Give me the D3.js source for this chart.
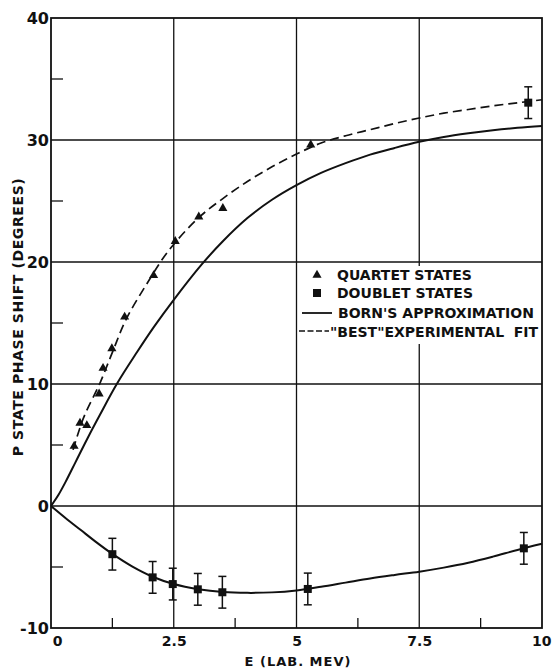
<!DOCTYPE html>
<html>
<head>
<meta charset="utf-8">
<script src="https://cdn.jsdelivr.net/npm/d3@7/dist/d3.min.js"></script>
<style>
  html, body { margin: 0; padding: 0; background: #fff; }
  svg { display: block; }
  text { font-family: "DejaVu Sans", sans-serif; fill: #111; }
</style>
</head>
<body>
<svg id="chart" width="552" height="668"></svg>
<script>
// ---------------- data ----------------
const xTickValues = [0, 2.5, 5, 7.5, 10];
const xTickLabels = ["0", "2.5", "5", "7.5", "10"];
const yTickValues = [-10, 0, 10, 20, 30, 40];
const yTickLabels = ["-10", "0", "10", "20", "30", "40"];
const xMinorTicks = [1.25, 3.75, 6.25, 8.75];
const yMinorTicks = [-5, 5, 15, 25, 35];

// Quartet states (triangles)
const quartetE   = [0.47, 0.59, 0.73, 0.98, 1.06, 1.24, 1.50, 2.09, 2.53, 3.01, 3.50, 5.29];
const quartetPhi = [4.9, 6.8, 6.6, 9.2, 11.3, 12.9, 15.5, 18.9, 21.7, 23.7, 24.4, 29.6];

// Doublet states (squares with error bars)
const doubletE   = [1.25, 2.07, 2.48, 2.99, 3.49, 5.23, 9.63, 9.72];
const doubletPhi = [-3.95, -5.85, -6.4, -6.83, -7.07, -6.8, -3.47, 33.06];
const doubletErr = [1.3, 1.3, 1.3, 1.3, 1.3, 1.3, 1.3, 1.3];

// Born's approximation, quartet (solid)
const bornQE   = [0, 0.15, 0.3, 0.5, 0.75, 1.0, 1.34, 1.75, 2.1, 2.5, 3.07, 3.5, 4.0, 4.5, 5.0, 5.5, 6.0, 6.5, 7.0, 7.5, 8.0, 8.5, 9.0, 9.5, 10];
const bornQPhi = [0, 0.9, 2.0, 3.6, 5.6, 7.5, 10.0, 12.6, 14.7, 16.9, 19.8, 21.7, 23.6, 25.1, 26.3, 27.3, 28.1, 28.8, 29.35, 29.85, 30.25, 30.55, 30.8, 31.0, 31.15];

// Born's approximation, doublet (solid)
const bornDE   = [0, 0.3, 0.6, 0.9, 1.25, 1.65, 2.07, 2.5, 3.0, 3.5, 4.0, 4.5, 5.0, 5.5, 6.0, 6.5, 7.0, 7.5, 8.0, 8.5, 9.0, 9.5, 10];
const bornDPhi = [0, -1.0, -1.95, -2.9, -3.93, -4.95, -5.8, -6.4, -6.82, -7.05, -7.12, -7.08, -6.92, -6.62, -6.28, -5.94, -5.65, -5.38, -5.05, -4.65, -4.15, -3.6, -3.1];

// "Best" experimental fit (dashed)
const bestE   = [0.45, 0.66, 1.0, 1.26, 1.53, 1.95, 2.39, 3.0, 3.5, 4.0, 4.5, 5.0, 5.5, 6.0, 6.5, 7.0, 7.5, 8.0, 8.5, 9.0, 9.5, 10];
const bestPhi = [4.6, 7.2, 10.1, 12.7, 15.3, 18.2, 20.9, 23.6, 25.2, 26.6, 27.8, 28.85, 29.75, 30.35, 30.85, 31.35, 31.8, 32.2, 32.5, 32.8, 33.05, 33.3];

const legendLabels = ["QUARTET STATES", "DOUBLET STATES", "BORN'S APPROXIMATION", "\"BEST\"EXPERIMENTAL  FIT"];
const xTitle = "E (LAB. MEV)";
const yTitle = "P STATE PHASE SHIFT (DEGREES)";

// ---------------- layout ----------------
const W = 552, H = 668;
const m = { left: 51, top: 18, right: 10, bottom: 40 };
const pw = W - m.left - m.right, ph = H - m.top - m.bottom;

const svg = d3.select("#chart");
const x = d3.scaleLinear().domain([0, 10]).range([m.left, m.left + pw]);
const y = d3.scaleLinear().domain([-10, 40]).range([m.top + ph, m.top]);

const zip = (a, b) => a.map((v, i) => [v, b[i]]);

// grid
const g = svg.append("g");
g.selectAll(".vg").data(xTickValues.slice(1, -1)).enter().append("line")
  .attr("x1", d => x(d)).attr("x2", d => x(d))
  .attr("y1", y(40)).attr("y2", y(-10))
  .attr("stroke", "#111").attr("stroke-width", 1.3);
g.selectAll(".hg").data(yTickValues.slice(1, -1)).enter().append("line")
  .attr("x1", x(0)).attr("x2", x(10))
  .attr("y1", d => y(d)).attr("y2", d => y(d))
  .attr("stroke", "#111").attr("stroke-width", 1.3);

// minor inner ticks
g.selectAll(".ym").data(yMinorTicks).enter().append("line")
  .attr("x1", x(0)).attr("x2", x(0) + 12)
  .attr("y1", d => y(d)).attr("y2", d => y(d))
  .attr("stroke", "#111").attr("stroke-width", 1.3);
g.selectAll(".xm").data(xMinorTicks).enter().append("line")
  .attr("x1", d => x(d)).attr("x2", d => x(d))
  .attr("y1", y(-10)).attr("y2", y(-10) - 10)
  .attr("stroke", "#111").attr("stroke-width", 1.3);

// legend background (hides grid)
const lg = svg.append("g");
lg.append("rect").attr("x", 298).attr("y", 266).attr("width", 242).attr("height", 78).attr("fill", "#fff");

// frame
svg.append("rect").attr("x", x(0)).attr("y", y(40)).attr("width", pw).attr("height", ph)
  .attr("fill", "none").attr("stroke", "#111").attr("stroke-width", 1.8);

// axes labels via d3 axes
const xAxis = svg.append("g").attr("transform", `translate(0,${y(-10)})`)
  .call(d3.axisBottom(x).tickValues(xTickValues).tickSize(0).tickPadding(8)
    .tickFormat((d, i) => xTickLabels[i]));
xAxis.select(".domain").remove();
xAxis.selectAll("text").attr("font-family", "DejaVu Sans").attr("font-size", 14).attr("font-weight", "bold")
  .attr("fill", "#111")
  .attr("dx", (d, i) => i === 0 ? 6 : 0)
  .attr("text-anchor", (d, i) => i === xTickValues.length - 1 ? "end" : "middle")
  .attr("x", (d, i) => i === xTickValues.length - 1 ? W - 1 - x(d) : 0);

const yAxis = svg.append("g").attr("transform", `translate(${x(0)},0)`)
  .call(d3.axisLeft(y).tickValues(yTickValues).tickSize(0).tickPadding(2)
    .tickFormat((d, i) => yTickLabels[i]));
yAxis.select(".domain").remove();
yAxis.selectAll("text").attr("font-family", "DejaVu Sans").attr("font-size", 16).attr("font-weight", "bold")
  .attr("fill", "#111");

// curves
const line = d3.line().x(d => x(d[0])).y(d => y(d[1])).curve(d3.curveCatmullRom.alpha(0.5));
svg.append("path").datum(zip(bornQE, bornQPhi)).attr("d", line)
  .attr("fill", "none").attr("stroke", "#111").attr("stroke-width", 2);
svg.append("path").datum(zip(bornDE, bornDPhi)).attr("d", line)
  .attr("fill", "none").attr("stroke", "#111").attr("stroke-width", 2);
svg.append("path").datum(zip(bestE, bestPhi)).attr("d", line)
  .attr("fill", "none").attr("stroke", "#111").attr("stroke-width", 1.7)
  .attr("stroke-dasharray", "9,5");

// quartet triangles
svg.selectAll(".tri").data(zip(quartetE, quartetPhi)).enter().append("path")
  .attr("d", d3.symbol().type(d3.symbolTriangle).size(36))
  .attr("transform", d => `translate(${x(d[0])},${y(d[1])})`)
  .attr("fill", "#111");

// doublet error bars + squares
const dd = doubletE.map((e, i) => ({ e, p: doubletPhi[i], s: doubletErr[i] }));
const eb = svg.selectAll(".eb").data(dd).enter().append("g");
eb.append("line").attr("x1", d => x(d.e)).attr("x2", d => x(d.e))
  .attr("y1", d => y(d.p + d.s)).attr("y2", d => y(d.p - d.s))
  .attr("stroke", "#111").attr("stroke-width", 1.5);
eb.append("line").attr("x1", d => x(d.e) - 4).attr("x2", d => x(d.e) + 4)
  .attr("y1", d => y(d.p + d.s)).attr("y2", d => y(d.p + d.s))
  .attr("stroke", "#111").attr("stroke-width", 1.5);
eb.append("line").attr("x1", d => x(d.e) - 4).attr("x2", d => x(d.e) + 4)
  .attr("y1", d => y(d.p - d.s)).attr("y2", d => y(d.p - d.s))
  .attr("stroke", "#111").attr("stroke-width", 1.5);
eb.append("rect").attr("x", d => x(d.e) - 4).attr("y", d => y(d.p) - 4)
  .attr("width", 8).attr("height", 8).attr("fill", "#111");

// legend
lg.raise();
const lfs = 14;
lg.append("path").attr("d", d3.symbol().type(d3.symbolTriangle).size(36)).attr("transform", "translate(317,275)").attr("fill", "#111");
lg.append("rect").attr("x", 313).attr("y", 289).attr("width", 8).attr("height", 8).attr("fill", "#111");
lg.append("line").attr("x1", 302).attr("x2", 332).attr("y1", 313).attr("y2", 313).attr("stroke", "#111").attr("stroke-width", 1.8);
lg.append("line").attr("x1", 299).attr("x2", 329).attr("y1", 331).attr("y2", 331).attr("stroke", "#111").attr("stroke-width", 1.6).attr("stroke-dasharray", "6,2.5");
const lx = [337, 337, 338, 330], ly = [280, 298, 318, 337];
legendLabels.forEach((t, i) => {
  lg.append("text").attr("x", lx[i]).attr("y", ly[i]).attr("font-size", lfs).attr("font-weight", "bold")
    .style("white-space", "pre").text(t);
});

// titles
svg.append("text").attr("x", 298).attr("y", 666).attr("text-anchor", "middle")
  .attr("font-size", 13).attr("font-weight", "bold").attr("letter-spacing", 1).text(xTitle);
svg.append("text").attr("transform", "translate(23,317) rotate(-90)").attr("text-anchor", "middle")
  .attr("font-size", 14).attr("font-weight", "bold").attr("letter-spacing", 0.6).text(yTitle);
</script>
</body>
</html>
